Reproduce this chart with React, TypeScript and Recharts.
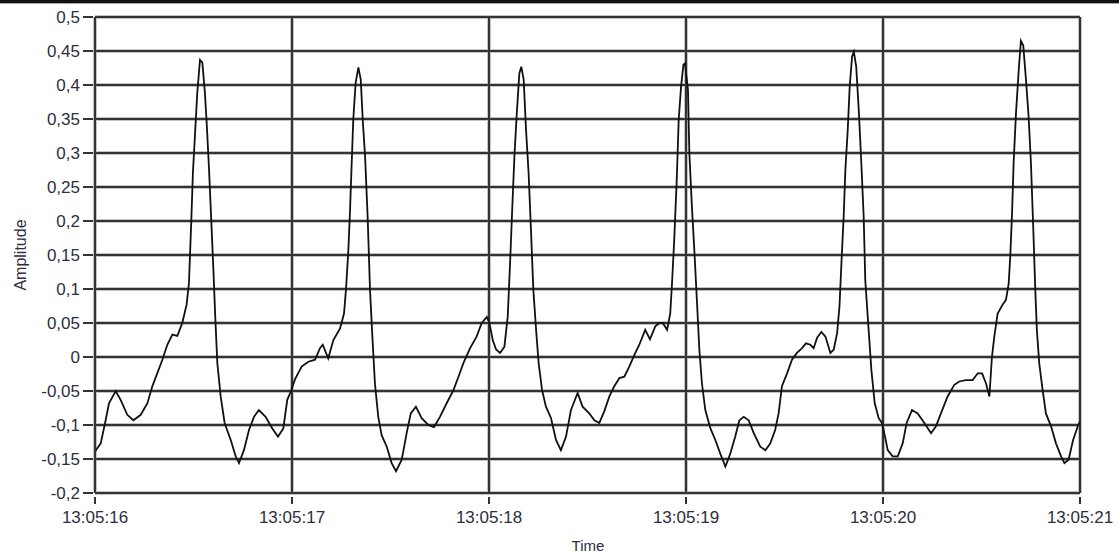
import React from "react";
import { LineChart, Line, XAxis, YAxis, CartesianGrid } from "recharts";

// seconds after 13:05:16
const times: number[] = [
  0.0, 0.029, 0.054, 0.071, 0.105, 0.13, 0.164, 0.195, 0.232, 0.266, 0.291, 0.316, 0.342, 0.367, 0.393, 0.418, 0.443, 0.465, 0.477, 0.489,
  0.497, 0.508, 0.519, 0.533, 0.545, 0.558, 0.567, 0.579, 0.59, 0.601, 0.611, 0.621, 0.638, 0.658, 0.689, 0.714, 0.731, 0.756, 0.782, 0.807,
  0.832, 0.866, 0.9, 0.929, 0.956, 0.976,
  0.995, 1.015, 1.049, 1.083, 1.117, 1.142, 1.156, 1.184, 1.21, 1.244, 1.264, 1.274, 1.286, 1.294, 1.303, 1.311, 1.323, 1.337, 1.349, 1.359,
  1.371, 1.384, 1.396, 1.408, 1.421, 1.438, 1.455, 1.481, 1.506, 1.528, 1.557, 1.582, 1.603, 1.629, 1.658, 1.692, 1.721, 1.751, 1.785, 1.819,
  1.845, 1.87, 1.904, 1.937, 1.963, 1.989,
  2.002, 2.019, 2.036, 2.056, 2.078, 2.095, 2.107, 2.117, 2.129, 2.141, 2.154, 2.164, 2.176, 2.188, 2.201, 2.213, 2.225, 2.239, 2.252, 2.269,
  2.289, 2.315, 2.34, 2.365, 2.391, 2.416, 2.45, 2.475, 2.509, 2.535, 2.56, 2.585, 2.611, 2.636, 2.662, 2.687, 2.712, 2.738, 2.763, 2.793,
  2.817, 2.844, 2.865, 2.882, 2.904, 2.92, 2.929, 2.941, 2.953, 2.963, 2.975, 2.987,
  2.995, 3.01, 3.017, 3.03, 3.044, 3.056, 3.068, 3.081, 3.098, 3.124, 3.149, 3.174, 3.2, 3.225, 3.25, 3.271, 3.293, 3.318, 3.344, 3.377,
  3.403, 3.428, 3.453, 3.47, 3.487, 3.513, 3.538, 3.563, 3.589, 3.609, 3.631, 3.648, 3.665, 3.687, 3.708, 3.733, 3.75, 3.767, 3.779, 3.789,
  3.801, 3.809, 3.821, 3.831, 3.843, 3.852, 3.864, 3.877, 3.89, 3.902, 3.91, 3.927, 3.941, 3.958, 3.978,
  3.995, 4.01, 4.024, 4.049, 4.075, 4.1, 4.12, 4.147, 4.176, 4.21, 4.244, 4.269, 4.294, 4.328, 4.362, 4.387, 4.421, 4.455, 4.481, 4.503,
  4.523, 4.54, 4.553, 4.565, 4.582, 4.607, 4.624, 4.638, 4.646, 4.655, 4.663, 4.675, 4.689, 4.7, 4.712, 4.726, 4.739, 4.751, 4.763, 4.773,
  4.781, 4.793, 4.81, 4.827, 4.853, 4.878, 4.904, 4.921, 4.942, 4.965, 4.991, 5.0,
];

const amplitude: number[] = [
  -0.139, -0.127, -0.093, -0.068, -0.05, -0.063, -0.085, -0.093, -0.085, -0.068, -0.043, -0.024, -0.004, 0.018, 0.033, 0.031, 0.05, 0.077, 0.109, 0.202,
  0.271, 0.329, 0.388, 0.437, 0.433, 0.388, 0.344, 0.275, 0.202, 0.128, 0.055, -0.009, -0.058, -0.097, -0.122, -0.146, -0.156, -0.137, -0.107, -0.088,
  -0.078, -0.088, -0.105, -0.117, -0.105, -0.063,
  -0.05, -0.033, -0.014, -0.007, -0.004, 0.013, 0.018, -0.002, 0.025, 0.042, 0.064, 0.099, 0.157, 0.211, 0.285, 0.349, 0.403, 0.426, 0.408, 0.349,
  0.295, 0.206, 0.099, 0.03, -0.039, -0.088, -0.115, -0.132, -0.156, -0.168, -0.151, -0.112, -0.083, -0.073, -0.09, -0.1, -0.103, -0.088, -0.068, -0.049,
  -0.029, -0.009, 0.013, 0.03, 0.05, 0.059,
  0.05, 0.025, 0.011, 0.006, 0.015, 0.059, 0.138, 0.211, 0.295, 0.358, 0.417, 0.427, 0.408, 0.334, 0.271, 0.187, 0.099, 0.04, -0.009, -0.048,
  -0.073, -0.09, -0.122, -0.137, -0.117, -0.078, -0.053, -0.073, -0.083, -0.093, -0.097, -0.08, -0.058, -0.043, -0.031, -0.029, -0.014, 0.003, 0.018, 0.04,
  0.026, 0.045, 0.05, 0.05, 0.04, 0.064, 0.108, 0.177, 0.261, 0.349, 0.398, 0.43,
  0.432, 0.393, 0.3, 0.221, 0.148, 0.079, 0.01, -0.039, -0.078, -0.105, -0.122, -0.142, -0.161, -0.142, -0.117, -0.093, -0.088, -0.093, -0.112, -0.132,
  -0.137, -0.127, -0.107, -0.083, -0.043, -0.024, -0.004, 0.006, 0.013, 0.02, 0.018, 0.013, 0.028, 0.037, 0.03, 0.006, 0.011, 0.035, 0.074, 0.138,
  0.211, 0.275, 0.334, 0.398, 0.442, 0.449, 0.427, 0.363, 0.285, 0.206, 0.113, 0.04, -0.019, -0.068, -0.09,
  -0.097, -0.117, -0.137, -0.146, -0.146, -0.127, -0.097, -0.078, -0.083, -0.097, -0.112, -0.102, -0.083, -0.058, -0.041, -0.036, -0.034, -0.034, -0.024, -0.024,
  -0.039, -0.058, 0.0, 0.03, 0.064, 0.077, 0.084, 0.108, 0.148, 0.211, 0.285, 0.358, 0.422, 0.465, 0.458, 0.407, 0.354, 0.285, 0.187, 0.099,
  0.04, -0.009, -0.048, -0.083, -0.102, -0.127, -0.146, -0.156, -0.151, -0.122, -0.1, -0.095,
];

const timeTicks: number[] = [0, 1, 2, 3, 4, 5];
const timeTickLabels: string[] = ["13:05:16", "13:05:17", "13:05:18", "13:05:19", "13:05:20", "13:05:21"];
const ampTicks: number[] = [-0.2, -0.15, -0.1, -0.05, 0, 0.05, 0.1, 0.15, 0.2, 0.25, 0.3, 0.35, 0.4, 0.45, 0.5];

const data = times.map((t, i) => ({ t, a: amplitude[i] }));

const FONT = "'Liberation Sans', Arial, sans-serif";
const TEXT = "#2e2e3c";

const fmtAmp = (v: number) => {
  const r = Math.round(v * 100) / 100;
  return String(r).replace(".", ",");
};

const YTick = (props: any) => {
  const { y, payload } = props;
  return (
    <g>
      <line x1={83} x2={93} y1={y} y2={y} stroke="#333" strokeWidth={2} />
      <text x={80} y={y} textAnchor="end" dominantBaseline="central" fontFamily={FONT} fontSize={17} fill={TEXT}>
        {fmtAmp(payload.value)}
      </text>
    </g>
  );
};

const XTick = (props: any) => {
  const { x, payload } = props;
  const idx = timeTicks.indexOf(payload.value);
  return (
    <g>
      <line x1={x} x2={x} y1={497} y2={504} stroke="#333" strokeWidth={2} />
      <text x={x} y={517} textAnchor="middle" dominantBaseline="central" fontFamily={FONT} fontSize={17} fill={TEXT}>
        {idx >= 0 ? timeTickLabels[idx] : ""}
      </text>
    </g>
  );
};

export default function App() {
  return (
    <div style={{ position: "absolute", left: 0, top: 0, width: 1119, height: 553, background: "#fff", overflow: "hidden" }}>
      <div style={{ position: "absolute", left: 0, top: 0, width: 1119, height: 3, background: "#111" }} />
      <div style={{ position: "absolute", left: 0, top: 3, width: 1119, height: 1, background: "#aaa" }} />
      <LineChart width={1119} height={553} data={data} margin={{ top: 17, right: 39, left: 0, bottom: 0 }}>
        <CartesianGrid stroke="#c4c4c4" strokeWidth={4} horizontalValues={ampTicks} verticalValues={timeTicks} />
        <CartesianGrid stroke="#333" strokeWidth={2} horizontalValues={ampTicks} verticalValues={timeTicks} />
        <XAxis
          dataKey="t"
          type="number"
          domain={[0, 5]}
          ticks={timeTicks}
          height={60}
          axisLine={{ stroke: "#333", strokeWidth: 2 }}
          tickLine={false}
          tick={<XTick />}
          interval={0}
          allowDataOverflow
          label={(p: any) => (
            <text x={588} y={545} textAnchor="middle" dominantBaseline="central" fontFamily={FONT} fontSize={15} fill={TEXT}>
              Time
            </text>
          )}
        />
        <YAxis
          type="number"
          domain={[-0.2, 0.5]}
          ticks={ampTicks}
          width={95}
          axisLine={{ stroke: "#333", strokeWidth: 2 }}
          tickLine={false}
          tick={<YTick />}
          interval={0}
          allowDataOverflow
          label={(p: any) => (
            <text
              x={20}
              y={255}
              textAnchor="middle"
              dominantBaseline="central"
              transform="rotate(-90 20 255)"
              fontFamily={FONT}
              fontSize={16}
              fill={TEXT}
            >
              Amplitude
            </text>
          )}
        />
        <Line
          type="linear"
          dataKey="a"
          stroke="#111"
          strokeWidth={1.8}
          dot={false}
          activeDot={false}
          isAnimationActive={false}
        />
      </LineChart>
    </div>
  );
}
